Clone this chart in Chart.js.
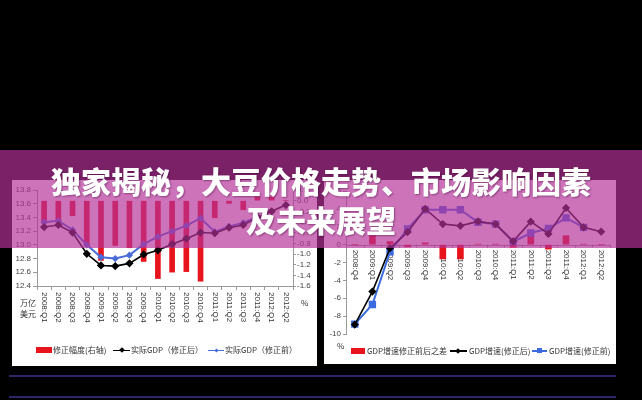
<!DOCTYPE html>
<html><head><meta charset="utf-8">
<script src="https://cdn.jsdelivr.net/npm/chart.js@4.4.1/dist/chart.umd.min.js"></script>
<style>
html,body{margin:0;padding:0;background:#000;}
#stage{position:relative;width:642px;height:400px;overflow:hidden;background:#000;}
.panel{position:absolute;background:#fff;}
.panel canvas{position:absolute;left:0;top:0;}
.t{position:absolute;font-family:"Noto Sans CJK SC","Liberation Sans",sans-serif;font-size:8px;color:#333;white-space:nowrap;line-height:10px;}
.sw{position:absolute;}
.hl{position:absolute;left:9px;width:607px;height:2px;background:#2c2868;}
#banner{position:absolute;left:0;top:150px;width:642px;height:98px;background:rgba(181,48,153,0.68);}
#title{position:absolute;left:0;top:161px;width:642px;text-align:center;font-family:"Noto Sans CJK SC",sans-serif;font-weight:900;font-size:30px;line-height:39px;color:#fff;text-shadow:1px 1px 2px rgba(60,0,50,0.45);}
</style></head>
<body>
<div id="stage">
  <div class="panel" id="p1" style="left:12px;top:180px;width:305px;height:186px;">
    <canvas id="c1" width="305" height="186"></canvas>
    <div class="t" style="left:8px;top:117px;line-height:11px;">万亿<br>美元</div>
    <div class="t" style="left:289px;top:118px;">%</div>
    <div class="sw" style="left:24px;top:167px;width:16px;height:6px;background:#e8141c;"></div>
    <div class="t" style="left:41px;top:165px;">修正幅度(右轴)</div>
    <div class="sw" style="left:101px;top:169.5px;width:17px;height:1.5px;background:#000;"></div>
    <div class="sw" style="left:108px;top:168px;width:4px;height:4px;background:#000;transform:rotate(45deg);"></div>
    <div class="t" style="left:119px;top:165px;">实际GDP（修正后）</div>
    <div class="sw" style="left:196px;top:169.5px;width:16px;height:1.5px;background:#4a6cd8;"></div>
    <div class="sw" style="left:202.5px;top:168.5px;width:3px;height:3px;background:#4a6cd8;transform:rotate(45deg);"></div>
    <div class="t" style="left:213px;top:165px;">实际GDP（修正前）</div>
  </div>
  <div class="panel" id="p2" style="left:324px;top:180px;width:292px;height:184px;">
    <canvas id="c2" width="292" height="184"></canvas>
    <div class="t" style="left:13px;top:161px;">%</div>
    <div class="sw" style="left:27px;top:168px;width:14px;height:6px;background:#e8141c;"></div>
    <div class="t" style="left:43px;top:166px;">GDP增速修正前后之差</div>
    <div class="sw" style="left:126px;top:170px;width:17px;height:1.5px;background:#000;"></div>
    <div class="sw" style="left:132px;top:168.5px;width:4px;height:4px;background:#000;transform:rotate(45deg);"></div>
    <div class="t" style="left:145px;top:166px;">GDP增速(修正后)</div>
    <div class="sw" style="left:208px;top:170px;width:15px;height:1.5px;background:#3c6be0;"></div>
    <div class="sw" style="left:212.5px;top:168px;width:5px;height:5px;background:#3c6be0;"></div>
    <div class="t" style="left:225px;top:166px;">GDP增速(修正前)</div>
  </div>
  <div class="hl" style="top:375px;"></div>
  <div class="hl" style="top:396px;"></div>
  <div id="banner"></div>
  <div id="title">独家揭秘，大豆价格走势、市场影响因素<br>及未来展望</div>
</div>
<script>
// ---------- Left chart data ----------
const leftCategories = ['2008:Q1','2008:Q2','2008:Q3','2008:Q4','2009:Q1','2009:Q2','2009:Q3','2009:Q4',
  '2010:Q1','2010:Q2','2010:Q3','2010:Q4','2011:Q1','2011:Q2','2011:Q3','2011:Q4','2012:Q1','2012:Q2'];
const leftRevision = [-0.42,-0.40,-0.28,-0.85,-1.12,-0.84,-0.88,-1.14,-1.46,-1.34,-1.33,-1.51,-0.32,-0.05,-0.17,0.07,0.07,0];
const leftGdpAfter = [13.26,13.29,13.18,12.87,12.70,12.69,12.73,12.86,12.92,13.01,13.09,13.18,13.17,13.25,13.29,13.40,13.49,13.58];
const leftGdpBefore = [13.33,13.35,13.22,13.00,12.82,12.80,12.85,13.01,13.12,13.20,13.28,13.39,13.19,13.27,13.32,13.41,null,null];

// ---------- Right chart data ----------
const rightCategories = ['2008:Q4','2009:Q1','2009:Q2','2009:Q3','2009:Q4','2010:Q1','2010:Q2','2010:Q3',
  '2010:Q4','2011:Q1','2011:Q2','2011:Q3','2011:Q4','2012:Q1','2012:Q2'];
const rightDiff = [0,1.0,0.35,-0.25,0.2,-1.6,-1.6,0.05,0.05,-0.3,1.0,-0.5,1.0,0.05,0];
const rightGrowthAfter = [-8.94,-5.25,-0.4,1.4,4.0,2.3,2.1,2.6,2.3,0.37,2.57,1.2,4.1,1.93,1.45];
const rightGrowthBefore = [-8.9,-6.7,-0.8,1.75,3.9,3.9,3.9,2.5,2.3,0.33,1.3,1.8,3.0,1.93,null];

const tickFont = {family:'Liberation Sans', size:8};
const fmt1 = v => (Math.abs(v) < 1e-9 ? 0 : v).toFixed(1);

const vLabels = {
  id:'vLabels',
  beforeDatasetsDraw(chart, args, opts){
    const {ctx, chartArea} = chart;
    const xs = chart.scales.x;
    let y0;
    if (opts.zeroLine) {
      y0 = chart.scales.y.getPixelForValue(0);
      ctx.save();
      ctx.strokeStyle = '#9a9a9a'; ctx.lineWidth = 1;
      ctx.beginPath(); ctx.moveTo(chartArea.left, Math.round(y0)+0.5); ctx.lineTo(chartArea.right, Math.round(y0)+0.5); ctx.stroke();
      const n = chart.data.labels.length, step = (chartArea.right - chartArea.left)/n;
      for (let i=0;i<=n;i++){ const x = Math.round(chartArea.left + i*step)+0.5; ctx.beginPath(); ctx.moveTo(x, y0); ctx.lineTo(x, y0+3); ctx.stroke(); }
      ctx.restore();
      y0 += 5;
    } else {
      y0 = chartArea.bottom + 6;
    }
    ctx.save();
    ctx.font = '8px "Liberation Sans"';
    ctx.fillStyle = '#333';
    chart.data.labels.forEach((lab,i)=>{
      const x = xs.getPixelForValue(i);
      ctx.save(); ctx.translate(x, y0); ctx.rotate(Math.PI/2);
      ctx.textAlign='left'; ctx.textBaseline='middle'; ctx.fillText(lab,0,0); ctx.restore();
    });
    ctx.restore();
  }
};

new Chart(document.getElementById('c1'), {
  type:'bar',
  data:{
    labels:leftCategories,
    datasets:[
      {type:'line', label:'实际GDP（修正后）', data:leftGdpAfter, yAxisID:'y', borderColor:'#000', backgroundColor:'#000', borderWidth:1.6, pointStyle:'rectRot', pointRadius:3, order:1},
      {type:'line', label:'实际GDP（修正前）', data:leftGdpBefore, yAxisID:'y', borderColor:'#4a6cd8', backgroundColor:'#4a6cd8', borderWidth:2, pointStyle:'rectRot', pointRadius:2.2, order:2},
      {type:'bar', label:'修正幅度(右轴)', data:leftRevision, yAxisID:'y1', backgroundColor:'#e8141c', barThickness:5, order:3}
    ]
  },
  options:{
    responsive:false, animation:false, devicePixelRatio:1,
    layout:{padding:{top:10,left:0,right:0,bottom:0}},
    plugins:{legend:{display:false}, tooltip:{enabled:false}, vLabels:{zeroLine:false}},
    scales:{
      x:{offset:true, grid:{drawOnChartArea:false, offset:true, tickLength:4, color:'#9a9a9a'}, border:{color:'#9a9a9a'}, ticks:{display:false}, afterFit(s){s.height=80;}},
      y:{position:'left', min:12.4, max:13.8, ticks:{stepSize:0.2, autoSkip:false, callback:fmt1, font:tickFont, color:'#444', padding:2},
         grid:{drawOnChartArea:false, tickLength:4, color:'#9a9a9a'}, border:{color:'#9a9a9a'}, afterFit(s){s.width=25;}},
      y1:{position:'right', min:-1.6, max:0.2, ticks:{stepSize:0.2, autoSkip:false, callback:fmt1, font:tickFont, color:'#444', padding:1},
         grid:{drawOnChartArea:false, tickLength:3, color:'#9a9a9a'}, border:{color:'#9a9a9a'}, afterFit(s){s.width=24;}}
    }
  },
  plugins:[vLabels]
});

new Chart(document.getElementById('c2'), {
  type:'bar',
  data:{
    labels:rightCategories,
    datasets:[
      {type:'line', label:'GDP增速(修正后)', data:rightGrowthAfter, borderColor:'#000', backgroundColor:'#000', borderWidth:1.6, pointStyle:'rectRot', pointRadius:3, order:1},
      {type:'line', label:'GDP增速(修正前)', data:rightGrowthBefore, borderColor:'#3c6be0', backgroundColor:'#3c6be0', borderWidth:2, pointStyle:'rect', pointRadius:3.8, order:2},
      {type:'bar', label:'GDP增速修正前后之差', data:rightDiff, backgroundColor:'#e8141c', barThickness:6, order:3}
    ]
  },
  options:{
    responsive:false, animation:false, devicePixelRatio:1,
    layout:{padding:{top:11,left:0,right:0,bottom:30}},
    plugins:{legend:{display:false}, tooltip:{enabled:false}, vLabels:{zeroLine:true}},
    scales:{
      x:{display:false, offset:true},
      y:{position:'left', min:-10, max:6, ticks:{stepSize:2, autoSkip:false, font:tickFont, color:'#444', padding:2},
         grid:{drawOnChartArea:false, tickLength:3, color:'#9a9a9a'}, border:{color:'#9a9a9a'}, afterFit(s){s.width=22;}}
    }
  },
  plugins:[vLabels]
});
</script>
</body></html>
